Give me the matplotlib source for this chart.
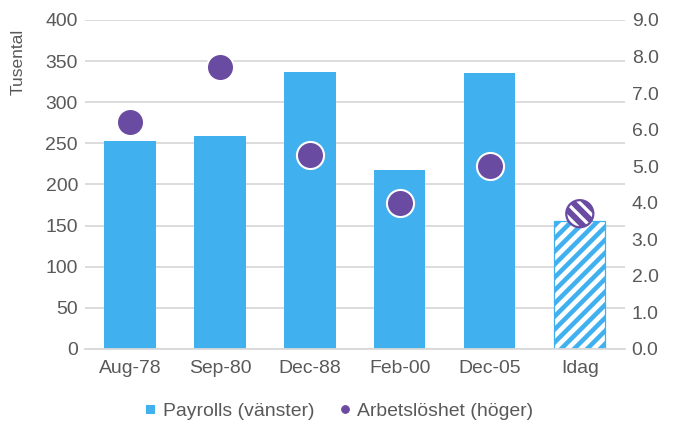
import matplotlib.pyplot as plt
from matplotlib.lines import Line2D
import numpy as np

# drawn at 78 dpi so the hatch stripes come out at the right spacing;
# K converts sizes given in 100-dpi points
DPI = 78
K = 100 / DPI

plt.rcParams['font.family'] = ['Liberation Sans', 'DejaVu Sans']
plt.rcParams['hatch.linewidth'] = 4.2

periods = ['Aug-78', 'Sep-80', 'Dec-88', 'Feb-00', 'Dec-05', 'Idag']
payrolls = [253, 259, 337, 218, 336, 156]
unemployment = [6.2, 7.7, 5.3, 4.0, 5.0, 3.7]

blue = '#41B0EE'
purple = '#6A4BA2'
text_col = '#595959'
grid_col = '#D9D9D9'

fig = plt.figure(figsize=(674 / DPI, 423 / DPI), dpi=DPI)
ax = fig.add_axes([0.126, 0.175, 0.801, 0.778])
ax2 = ax.twinx()

x = np.arange(len(periods))
ax.bar(x[:-1], payrolls[:-1], width=0.57, color=blue, zorder=2)
ax.bar(x[-1], payrolls[-1], width=0.57, facecolor='white', edgecolor=blue,
       hatch='//', linewidth=0.9 * K, zorder=2)

ax.set_ylim(0, 400)
ax.set_yticks(range(0, 401, 50))
ax.set_xlim(-0.5, len(periods) - 0.5)
ax.set_xticks(x)
ax.set_xticklabels(periods)
ax.grid(axis='y', color=grid_col, linewidth=1.3 * K, zorder=0)
ax.set_axisbelow(True)
ax.set_ylabel('Tusental', fontsize=12.5 * K, color=text_col)
ax.yaxis.set_label_coords(-0.11, 0.872)

# unemployment points on the right axis
s = 380 * K ** 2
ax2.scatter(x[:-1], unemployment[:-1], s=s, color=purple, edgecolor='white',
            linewidth=1.5 * K, zorder=4)
with plt.rc_context({'hatch.linewidth': 3.0}):
    ax2.scatter(x[-1], unemployment[-1], s=s, facecolor=purple, edgecolor='white',
                hatch='\\\\', linewidth=0, zorder=4)
ax2.scatter(x[-1], unemployment[-1], s=s, facecolor='none', edgecolor=purple,
            linewidth=1.6 * K, zorder=5)
ax2.set_ylim(0, 9)
ax2.set_yticks(np.arange(0, 9.1, 1))
ax2.set_yticklabels([f'{v:.1f}' for v in np.arange(0, 9.1, 1)])

for a in (ax, ax2):
    for sp in a.spines.values():
        sp.set_visible(False)
    a.tick_params(length=0, labelsize=14 * K, colors=text_col, pad=5 * K)
ax.spines['bottom'].set_visible(True)
ax.spines['bottom'].set_color(grid_col)
ax.spines['bottom'].set_linewidth(1.3 * K)
ax.tick_params(axis='x', pad=8 * K)

handles = [
    Line2D([], [], marker='s', linestyle='none', color=blue, markersize=5.5 * K),
    Line2D([], [], marker='o', linestyle='none', color=purple, markersize=5.5 * K),
]
fig.legend(handles, ['Payrolls (vänster)', 'Arbetslöshet (höger)'],
           loc='center', bbox_to_anchor=(0.502, 0.028), ncol=2, frameon=False,
           fontsize=14 * K, labelcolor=text_col, handletextpad=0.3,
           columnspacing=1.2, handlelength=0.7)

fig.savefig('out.png', dpi=DPI)
